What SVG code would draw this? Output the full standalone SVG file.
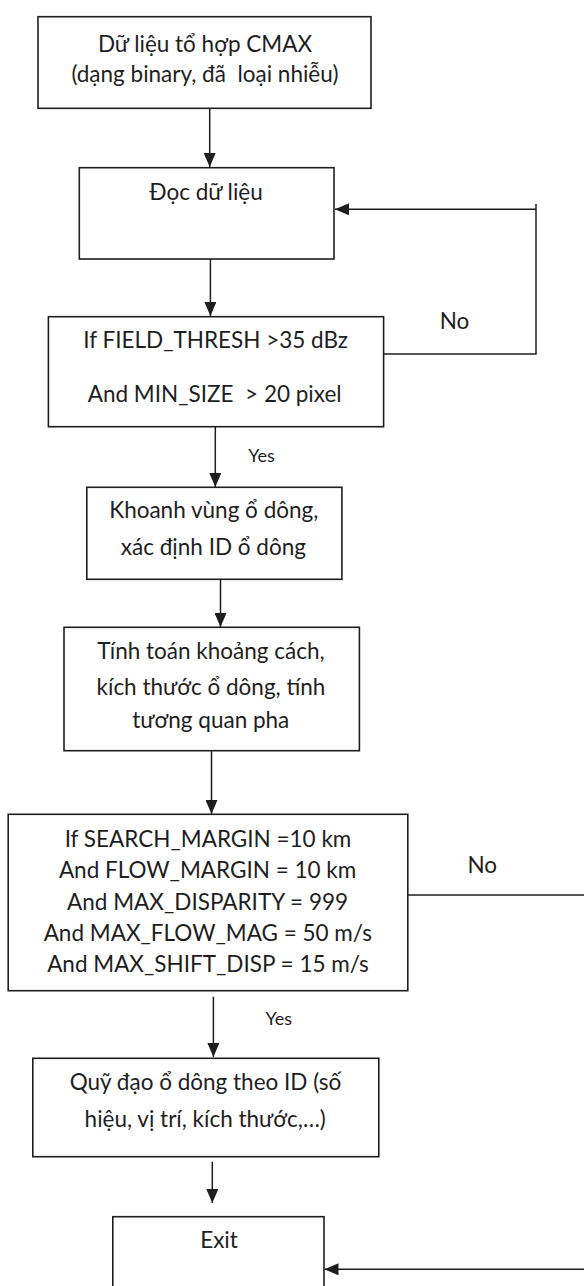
<svg xmlns="http://www.w3.org/2000/svg" width="584" height="1286" viewBox="0 0 584 1286">
<defs>
<style>
.box{fill:#fff;stroke:#1e1e1e;stroke-width:1.6}
.t{font-family:Lato,"Open Sans","Noto Sans",sans-serif;font-size:22.5px;fill:#1e1e1e;text-anchor:middle;white-space:pre}
.s{font-family:Lato,"Open Sans","Noto Sans",sans-serif;font-size:18px;fill:#1e1e1e;text-anchor:middle}
.c{fill:none;stroke:#1e1e1e;stroke-width:1.5}
</style>
<marker id="ah" markerUnits="userSpaceOnUse" markerWidth="14" markerHeight="12" refX="14" refY="6" orient="auto">
<path d="M0,0 L14,6 L0,12 z" fill="#1e1e1e"/>
</marker>
</defs>
<rect width="584" height="1286" fill="#fff"/>
<g id="connectors">
<line class="c" x1="209.7" y1="108" x2="209.7" y2="167" marker-end="url(#ah)"/>
<line class="c" x1="210.4" y1="259" x2="210.4" y2="316" marker-end="url(#ah)"/>
<polyline class="c" points="383.6,354 536,354 536,204"/>
<line class="c" x1="536" y1="209.3" x2="335" y2="209.3" marker-end="url(#ah)"/>
<line class="c" x1="215.3" y1="427" x2="215.3" y2="487" marker-end="url(#ah)"/>
<line class="c" x1="220.5" y1="579" x2="220.5" y2="627" marker-end="url(#ah)"/>
<line class="c" x1="211.5" y1="751" x2="211.5" y2="814" marker-end="url(#ah)"/>
<line class="c" x1="407.8" y1="895" x2="584" y2="895"/>
<line class="c" x1="213.4" y1="996.7" x2="213.4" y2="1057" marker-end="url(#ah)"/>
<line class="c" x1="212.3" y1="1161.7" x2="212.3" y2="1203" marker-end="url(#ah)"/>
<line class="c" x1="584" y1="1269.3" x2="324.5" y2="1269.3" marker-end="url(#ah)"/>
<text class="t" x="454.5" y="329">No</text>
<text class="s" x="261.6" y="461.7">Yes</text>
<text class="t" x="482.3" y="873.3">No</text>
<text class="s" x="278.7" y="1025">Yes</text>
</g>
<g id="n1">
<rect class="box" x="38" y="16.7" width="333" height="91.6"/>
<text class="t" x="205" y="51.7">Dữ liệu tổ hợp CMAX</text>
<text class="t" x="205" y="81.7" xml:space="preserve">(dạng binary, đã  loại nhiễu)</text>
</g>
<g id="n2">
<rect class="box" x="79.3" y="167.7" width="254.7" height="91.3"/>
<text class="t" x="206" y="200">Đọc dữ liệu</text>
</g>
<g id="n3">
<rect class="box" x="48.4" y="316.7" width="335.2" height="110"/>
<text class="t" x="215.6" y="348.3">If FIELD_THRESH &gt;35 dBz</text>
<text class="t" x="214.7" y="401.7" xml:space="preserve">And MIN_SIZE  &gt; 20 pixel</text>
</g>
<g id="n4">
<rect class="box" x="86.8" y="487.3" width="255.1" height="92"/>
<text class="t" x="213.8" y="518.3">Khoanh vùng ổ dông,</text>
<text class="t" x="213.4" y="555">xác định ID ổ dông</text>
</g>
<g id="n5">
<rect class="box" x="64" y="627.3" width="295.4" height="123.4"/>
<text class="t" x="211" y="659.3">Tính toán khoảng cách,</text>
<text class="t" x="211" y="695">kích thước ổ dông, tính</text>
<text class="t" x="210.8" y="728.3">tương quan pha</text>
</g>
<g id="n6">
<rect class="box" x="8.2" y="814.3" width="399.6" height="176.4"/>
<text class="t" x="208" y="847">If SEARCH_MARGIN =10 km</text>
<text class="t" x="207.6" y="878.3">And FLOW_MARGIN = 10 km</text>
<text class="t" x="207.6" y="910">And MAX_DISPARITY = 999</text>
<text class="t" x="207.8" y="940.7">And MAX_FLOW_MAG = 50 m/s</text>
<text class="t" x="208" y="971.7">And MAX_SHIFT_DISP = 15 m/s</text>
</g>
<g id="n7">
<rect class="box" x="32.8" y="1058.3" width="346" height="98.4"/>
<text class="t" x="205.5" y="1089.5">Quỹ đạo ổ dông theo ID (số</text>
<text class="t" x="205.2" y="1126.7">hiệu, vị trí, kích thước,…)</text>
</g>
<g id="n8">
<rect class="box" x="112.8" y="1216.7" width="211.2" height="80"/>
<text class="t" x="219" y="1248.3">Exit</text>
</g>
</svg>
